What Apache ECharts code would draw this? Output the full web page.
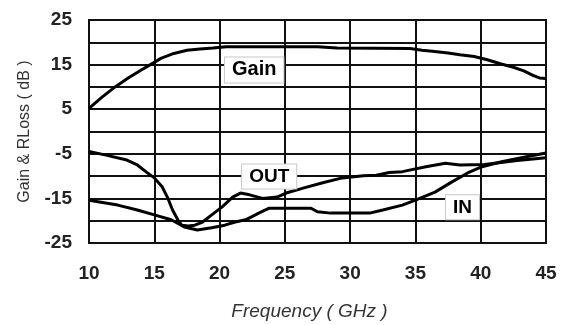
<!DOCTYPE html>
<html><head><meta charset="utf-8">
<script src="https://cdn.jsdelivr.net/npm/echarts@6/dist/echarts.min.js"></script>
<style>html,body{margin:0;padding:0;background:#fff}#c{width:565px;height:325px}</style>
</head><body><div id="c"></div>
<script>
var gainFreq = [10, 11, 12, 13, 14, 15, 15.5, 16.5, 17.5, 18.5, 19.5, 20.5, 27.5, 29, 34.6, 35.5, 36.3, 37.5, 38.4, 39.5, 40.5, 41.5, 42.5, 43.3, 44, 44.5, 45];
var gainDb   = [5.2, 7.7, 10, 12, 13.8, 15.5, 16.4, 17.5, 18.2, 18.5, 18.7, 19, 19, 18.7, 18.6, 18.2, 18, 17.6, 17.2, 16.8, 16.1, 15.2, 14.4, 13.6, 12.6, 12, 11.9];
var outFreq = [10, 11.3, 12.9, 13.7, 14.4, 15, 15.6, 16, 16.4, 16.8, 17.1, 17.6, 18.1, 18.7, 19.4, 20.2, 21, 21.6, 22.3, 23.3, 24.4, 25.1, 26.4, 27.9, 29.4, 31, 32, 33, 34, 35.8, 37.3, 38.4, 40.3, 42.8, 45];
var outDb   = [-4.5, -5.3, -6.4, -7.5, -9.1, -10.4, -12.4, -14.7, -17.6, -19.8, -21, -21.2, -21, -20.3, -18.7, -16.9, -14.7, -13.8, -14.2, -15, -14.7, -13.8, -12.7, -11.5, -10.4, -9.9, -9.8, -9.2, -9, -7.9, -7.1, -7.5, -7.4, -6.5, -5.9];
var inFreq = [10, 12.2, 13.7, 15, 16.3, 17.3, 18.3, 19.4, 20.4, 21.2, 22, 23, 23.8, 25, 27, 27.5, 28.5, 31.5, 32.5, 34, 35, 36.5, 37.8, 39, 40.1, 41.6, 43.4, 45];
var inDb   = [-15.4, -16.5, -17.6, -18.7, -19.8, -21.4, -22.1, -21.6, -21, -20.3, -19.8, -18.3, -17.2, -17.2, -17.2, -18, -18.3, -18.3, -17.6, -16.5, -15.4, -13.6, -11.3, -9.3, -7.9, -6.8, -5.7, -4.8];
var yTicks = [-25, -15, -5, 5, 15, 25];
var seriesNames = ['Gain', 'OUT', 'IN'];
var labelPos = [[22.65, 13.8], [23.8, -10.1], [38.6, -17]];

function pairs(xs, ys){ return xs.map(function(x,i){ return [x, ys[i]]; }); }
var chart = echarts.init(document.getElementById('c'), null, {renderer:'canvas'});
var font = '"Liberation Sans", Arial, sans-serif';
var lineStyle = {color:'#000', width:3};
function mk(i, data){
  return {
    name: seriesNames[i], type:'line', data: data, showSymbol:false, symbol:'none',
    lineStyle: lineStyle, animation:false, z:3,
    markPoint: {
      symbol:'rect', symbolSize:0, silent:true, animation:false,
      data: [{coord: labelPos[i], value: seriesNames[i]}],
      label: {show:true, position:'inside', formatter: seriesNames[i],
        color:'#000', fontFamily: font, fontWeight:'bold', fontSize: i === 0 ? 20 : 19,
        backgroundColor:'#fff', borderColor:'#c8c8c8', borderWidth:1, padding:[3,7,2,7]}
    }
  };
}
chart.setOption({
  backgroundColor:'#fff',
  animation:false,
  grid:{left:89, right:19, top:20, bottom:82, show:true, borderColor:'#111', borderWidth:2,
    containLabel:false, outerBoundsMode:'none'},
  xAxis:{type:'value', min:10, max:45, interval:5,
    name:'Frequency ( GHz )', nameLocation:'middle', nameGap:59,
    nameTextStyle:{fontFamily:font, fontStyle:'italic', fontSize:19, color:'#333', padding:[0,16,0,0]},
    axisLine:{show:false}, axisTick:{show:false},
    axisLabel:{fontFamily:font, fontWeight:'bold', fontSize:19, color:'#222', margin:21},
    splitLine:{show:true, lineStyle:{color:'#111', width:2}}},
  yAxis:{type:'value', min:-25, max:25, interval:5,
    name:'Gain & RLoss ( dB )', nameLocation:'middle', nameGap:56,
    nameTextStyle:{fontFamily:font, fontSize:16, color:'#333'},
    axisLine:{show:false}, axisTick:{show:false},
    axisLabel:{fontFamily:font, fontWeight:'bold', fontSize:19, color:'#222', margin:17,
      formatter:function(v){ return yTicks.indexOf(v) >= 0 ? String(v) : ''; }},
    splitLine:{show:true, lineStyle:{color:'#111', width:2}}},
  series:[mk(0, pairs(gainFreq, gainDb)), mk(1, pairs(outFreq, outDb)), mk(2, pairs(inFreq, inDb))]
});
</script></body></html>
